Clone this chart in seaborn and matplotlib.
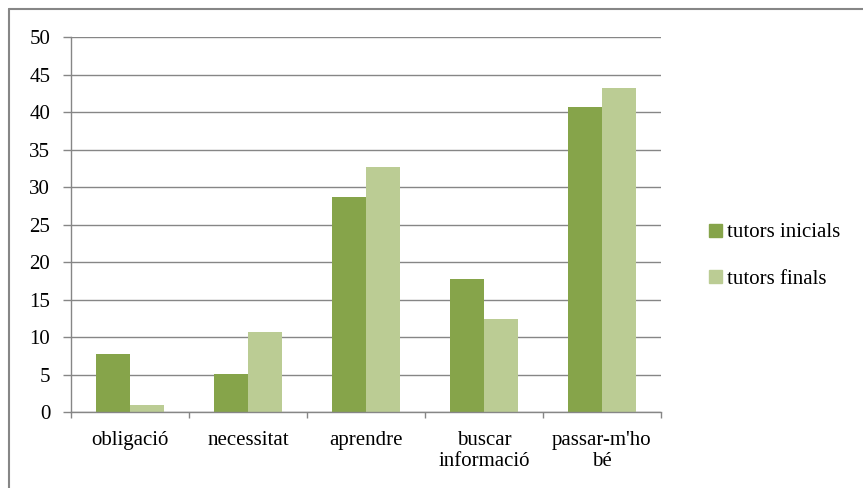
import pandas as pd
import matplotlib.pyplot as plt
import matplotlib.patches as mpatches
from matplotlib.lines import Line2D
import seaborn as sns

# dades llegides del gràfic
categories = ['obligació', 'necessitat', 'aprendre', 'buscar\ninformació', "passar-m'ho\nbé"]
inicials = [7.7, 5.1, 28.7, 17.8, 40.7]
finals = [0.9, 10.7, 32.7, 12.4, 43.3]
series_names = ['tutors inicials', 'tutors finals']
colors = ['#86A44A', '#BBCC94']

data = pd.DataFrame({
    'categoria': categories * 2,
    'valor': inicials + finals,
    'serie': [series_names[0]] * len(categories) + [series_names[1]] * len(categories),
})

sns.set_style('white')
plt.rcParams['font.family'] = ['Liberation Serif', 'DejaVu Serif']
plt.rcParams['text.color'] = 'black'
plt.rcParams['xtick.labelcolor'] = 'black'
plt.rcParams['ytick.labelcolor'] = 'black'

fig = plt.figure(figsize=(8.63, 4.88), dpi=100)
ax = fig.add_axes([71 / 863, 1 - 412 / 488, 590 / 863, 374.7 / 488])

sns.barplot(data=data, x='categoria', y='valor', hue='serie', palette=colors,
            width=0.568, gap=0, saturation=1, linewidth=0, ax=ax, legend=False)

ax.set_ylim(0, 50)
ax.set_xlim(-0.5, len(categories) - 0.5)
ax.set_yticks(range(0, 51, 5))
ax.yaxis.grid(True, color='#868686', linewidth=1)
ax.set_axisbelow(True)

# ticks entre categories, etiquetes al centre
ax.set_xticks([i - 0.5 for i in range(len(categories) + 1)])
ax.set_xticklabels([])
ax.set_xticks(range(len(categories)), minor=True)
ax.set_xticklabels(categories, minor=True, fontsize=15, linespacing=1.1)
ax.tick_params(axis='x', which='major', length=4, width=1, color='#868686', direction='out', bottom=True)
ax.tick_params(axis='x', which='minor', length=0, pad=14)
ax.tick_params(axis='y', length=6, width=1, color='#868686', direction='out', left=True,
               labelsize=15, pad=9)

for side in ['top', 'right']:
    ax.spines[side].set_visible(False)
for side in ['left', 'bottom']:
    ax.spines[side].set_color('#868686')
    ax.spines[side].set_linewidth(1)
ax.set_xlabel('')
ax.set_ylabel('')

handles = [mpatches.Patch(color=c, label=n) for c, n in zip(colors, series_names)]
fig.legend(handles=handles, loc='center left', bbox_to_anchor=(701 / 863, 1 - 256 / 488),
           frameon=False, fontsize=15, handlelength=0.6, handleheight=0.6,
           handletextpad=0.25, labelspacing=1.3, borderaxespad=0)

# vora del quadre del gràfic
fig.add_artist(Line2D([9 / 863, 9 / 863], [0, 1 - 9 / 488], transform=fig.transFigure,
                      color='#868686', linewidth=1.5))
fig.add_artist(Line2D([9 / 863, 1], [1 - 9 / 488, 1 - 9 / 488], transform=fig.transFigure,
                      color='#868686', linewidth=1.5))

fig.savefig('out.png', dpi=100)
